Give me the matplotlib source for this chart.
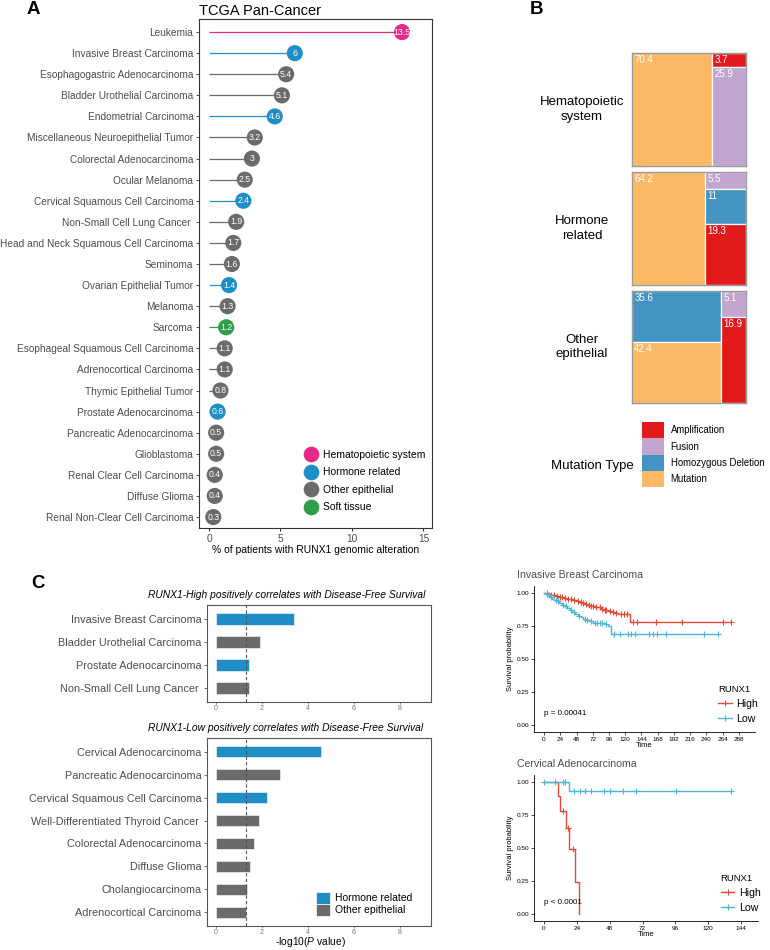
import numpy as np
import matplotlib
matplotlib.use("Agg")
import matplotlib.pyplot as plt
from matplotlib.patches import Rectangle, Patch
from matplotlib.lines import Line2D

plt.rcParams['font.family'] = ['Liberation Sans', 'DejaVu Sans']
plt.rcParams['mathtext.fontset'] = 'custom'
plt.rcParams['mathtext.rm'] = 'Liberation Sans'
plt.rcParams['mathtext.it'] = 'Liberation Sans:italic'

# ---- data ----
# panel A
cancers = ['Leukemia', 'Invasive Breast Carcinoma', 'Esophagogastric Adenocarcinoma',
           'Bladder Urothelial Carcinoma', 'Endometrial Carcinoma',
           'Miscellaneous Neuroepithelial Tumor', 'Colorectal Adenocarcinoma',
           'Ocular Melanoma', 'Cervical Squamous Cell Carcinoma',
           'Non-Small Cell Lung Cancer ', 'Head and Neck Squamous Cell Carcinoma',
           'Seminoma', 'Ovarian Epithelial Tumor', 'Melanoma', 'Sarcoma',
           'Esophageal Squamous Cell Carcinoma', 'Adrenocortical Carcinoma',
           'Thymic Epithelial Tumor', 'Prostate Adenocarcinoma',
           'Pancreatic Adenocarcinoma', 'Glioblastoma', 'Renal Clear Cell Carcinoma',
           'Diffuse Glioma', 'Renal Non-Clear Cell Carcinoma']
pct_altered = [13.5, 6, 5.4, 5.1, 4.6, 3.2, 3, 2.5, 2.4, 1.9, 1.7, 1.6, 1.4, 1.3,
               1.2, 1.1, 1.1, 0.8, 0.6, 0.5, 0.5, 0.4, 0.4, 0.3]
cancer_group = ['Hematopoietic system', 'Hormone related', 'Other epithelial',
                'Other epithelial', 'Hormone related', 'Other epithelial',
                'Other epithelial', 'Other epithelial', 'Hormone related',
                'Other epithelial', 'Other epithelial', 'Other epithelial',
                'Hormone related', 'Other epithelial', 'Soft tissue',
                'Other epithelial', 'Other epithelial', 'Other epithelial',
                'Hormone related', 'Other epithelial', 'Other epithelial',
                'Other epithelial', 'Other epithelial', 'Other epithelial']
group_names = ['Hematopoietic system', 'Hormone related', 'Other epithelial', 'Soft tissue']
group_colors = ['#E7298A', '#1F8DC6', '#6B6B6B', '#2E9E48']

# panel B (percent of altered patients by mutation type)
b_groups = ['Hematopoietic\nsystem', 'Hormone\nrelated', 'Other\nepithelial']
mut_types = ['Amplification', 'Fusion', 'Homozygous Deletion', 'Mutation']
mut_colors = ['#E31A1C', '#C2A5CF', '#4393C3', '#FDB863']
hemato_vals = {'Amplification': 3.7, 'Fusion': 25.9, 'Mutation': 70.4}
hormone_vals = {'Amplification': 19.3, 'Fusion': 5.5, 'Homozygous Deletion': 11, 'Mutation': 64.2}
other_vals = {'Amplification': 16.9, 'Fusion': 5.1, 'Homozygous Deletion': 35.6, 'Mutation': 42.4}
hemato_cols = [['Mutation'], ['Amplification', 'Fusion']]
hormone_cols = [['Mutation'], ['Fusion', 'Homozygous Deletion', 'Amplification']]
other_cols = [['Homozygous Deletion', 'Mutation'], ['Fusion', 'Amplification']]

# panel C bars
high_cancers = ['Invasive Breast Carcinoma', 'Bladder Urothelial Carcinoma',
                'Prostate Adenocarcinoma', 'Non-Small Cell Lung Cancer ']
high_logp = [3.4, 1.92, 1.42, 1.42]
high_group = ['Hormone related', 'Other epithelial', 'Hormone related', 'Other epithelial']
low_cancers = ['Cervical Adenocarcinoma', 'Pancreatic Adenocarcinoma',
               'Cervical Squamous Cell Carcinoma', 'Well-Differentiated Thyroid Cancer ',
               'Colorectal Adenocarcinoma', 'Diffuse Glioma', 'Cholangiocarcinoma',
               'Adrenocortical Carcinoma']
low_logp = [4.57, 2.8, 2.2, 1.85, 1.67, 1.48, 1.36, 1.31]
low_group = ['Hormone related', 'Other epithelial', 'Hormone related', 'Other epithelial',
             'Other epithelial', 'Other epithelial', 'Other epithelial', 'Other epithelial']

# panel C survival curves (months, survival probability)
brca_high_t = [0, 3, 6, 9, 13, 17, 21, 25, 29, 33, 38, 43, 48, 52, 56, 60, 64, 68, 75,
               80, 84, 88, 94, 100, 104, 110, 127, 276]
brca_high_s = [1.0, 0.995, 0.99, 0.985, 0.98, 0.975, 0.97, 0.965, 0.96, 0.955, 0.95,
               0.945, 0.94, 0.93, 0.925, 0.915, 0.91, 0.9, 0.895, 0.89, 0.88, 0.87,
               0.86, 0.855, 0.845, 0.84, 0.78, 0.78]
brca_high_cens = [5, 10, 15, 19, 23, 27, 31, 35, 40, 45, 50, 54, 58, 62, 66, 70, 73, 77,
                  82, 86, 90, 92, 97, 102, 107, 113, 118, 122, 132, 137, 166, 204, 264, 276]
brca_low_t = [0, 3, 6, 9, 12, 15, 18, 22, 26, 30, 34, 38, 42, 46, 50, 54, 58, 62, 66,
              72, 80, 90, 94, 99, 257]
brca_low_s = [1.0, 0.99, 0.98, 0.965, 0.955, 0.945, 0.935, 0.925, 0.91, 0.9, 0.885,
              0.87, 0.855, 0.84, 0.825, 0.815, 0.805, 0.795, 0.785, 0.775, 0.77, 0.765,
              0.745, 0.69, 0.69]
brca_low_cens = [4, 8, 11, 17, 21, 28, 33, 40, 44, 52, 60, 64, 70, 76, 78, 83, 86, 92,
                 104, 112, 124, 129, 134, 155, 161, 167, 180, 236, 257]
cesc_high_t = [0, 10.5, 12, 16, 18.3, 22.4, 25.5]
cesc_high_s = [1.0, 0.89, 0.78, 0.65, 0.49, 0.245, 0.0]
cesc_high_cens = [14, 17.6, 21]
cesc_low_t = [0, 18.3, 137]
cesc_low_s = [1.0, 0.93, 0.93]
cesc_low_cens = [0, 8, 14, 15, 15.5, 22, 26.6, 30, 34, 44, 48, 57.6, 67, 96.6, 137]

km_colors = {'High': '#E64B35', 'Low': '#4DB6D3'}

# ---- figure ----
W, H = 770, 950
fig = plt.figure(figsize=(W / 100, H / 100), dpi=100)


def ax_px(l, t, r, b):
    return fig.add_axes([l / W, 1 - b / H, (r - l) / W, (b - t) / H])


def fx(x):
    return x / W


def fy(y):
    return 1 - y / H


gray_txt = '#4D4D4D'
col_of = dict(zip(group_names, group_colors))

# ---- panel A ----
axA = ax_px(199, 19, 432, 528)
yA = np.arange(len(cancers))
cA = [col_of[g] for g in cancer_group]
axA.hlines(yA, 0, pct_altered, colors=cA, lw=0.9, zorder=1)
axA.scatter(pct_altered, yA, s=135, c=cA, zorder=2, linewidths=0)
for v, y in zip(pct_altered, yA):
    axA.text(v, y, f'{v:g}', color='white', fontsize=6.3, ha='center', va='center', zorder=3)
axA.set_yticks(yA)
axA.set_yticklabels(cancers, fontsize=7.3, color=gray_txt)
axA.set_ylim(len(cancers) - 1 + 0.52, -0.62)
axA.set_xlim(-0.7, 15.6)
axA.set_xticks([0, 5, 10, 15])
axA.tick_params(axis='x', labelsize=7.3, labelcolor=gray_txt, length=2.5, width=0.6, pad=1.5)
axA.tick_params(axis='y', length=2.5, width=0.6, pad=1.5, color='#333333')
for s in axA.spines.values():
    s.set_linewidth(0.8)
    s.set_color('#333333')
axA.set_xlabel('% of patients with RUNX1 genomic alteration', fontsize=7.5, labelpad=1)
fig.text(fx(199), fy(11), 'TCGA Pan-Cancer', fontsize=10.5, ha='left', va='center')
legA = [Line2D([], [], ls='none', marker='o', markersize=11.3, markeredgewidth=0,
               color=c, label=g) for g, c in zip(group_names, group_colors)]
axA.legend(handles=legA, loc='upper left', bbox_to_anchor=(fx(304), fy(450)),
           bbox_transform=fig.transFigure, frameon=False, fontsize=7.5,
           handlelength=1.3, handletextpad=0.5, labelspacing=0.72,
           borderpad=0, borderaxespad=0)

# ---- panel B ----
b_boxes = [(53, 166), (172, 285), (291, 403)]
b_vals = [hemato_vals, hormone_vals, other_vals]
b_cols = [hemato_cols, hormone_cols, other_cols]
mcol = dict(zip(mut_types, mut_colors))
for name, (top, bot), vals, cols in zip(b_groups, b_boxes, b_vals, b_cols):
    ax = ax_px(632, top, 746, bot)
    total = sum(vals.values())
    x0 = 0
    for col in cols:
        cw = sum(vals[k] for k in col) / total
        y0 = 0
        for k in col:
            ch = vals[k] / sum(vals[m] for m in col)
            ax.add_patch(Rectangle((x0, y0), cw, ch, facecolor=mcol[k],
                                   edgecolor='white', lw=0.9))
            ax.text(x0 + 0.02, y0 + 0.015, f'{vals[k]:g}', color='white',
                    fontsize=7, ha='left', va='top')
            y0 += ch
        x0 += cw
    ax.set_xlim(0, 1)
    ax.set_ylim(1, 0)
    ax.set_xticks([])
    ax.set_yticks([])
    for s in ax.spines.values():
        s.set_color('#9A9A9A')
        s.set_linewidth(1.0)
    fig.text(fx(582), fy((top + bot) / 2), name, fontsize=9.5, ha='center',
             va='center', linespacing=1.25)

legB = [Patch(facecolor=c, edgecolor='none', label=m) for m, c in zip(mut_types, mut_colors)]
fig.legend(handles=legB, loc='upper left', bbox_to_anchor=(fx(642), fy(422)),
           frameon=False, fontsize=6.9, handlelength=2.28, handleheight=2.25,
           handletextpad=0.7, labelspacing=0, borderpad=0, borderaxespad=0)
fig.text(fx(551), fy(466), 'Mutation Type', fontsize=9.5, ha='left', va='center')

# ---- panel C bars ----
def bar_panel(ax, names, vals, groups, title, title_y):
    y = np.arange(len(names))
    ax.barh(y, vals, height=0.5, color=[col_of[g] for g in groups],
            edgecolor='white', lw=0.4)
    ax.axvline(1.3, color='#555555', lw=0.8, ls=(0, (3, 2)))
    ax.set_yticks(y)
    ax.set_yticklabels(names, fontsize=7.8, color=gray_txt)
    ax.set_ylim(len(names) - 1 + 0.6, -0.6)
    ax.set_xlim(-0.39, 9.35)
    ax.set_xticks([0, 2, 4, 6, 8])
    ax.tick_params(axis='x', labelsize=5.0, labelcolor='#777777', length=1.5, width=0.5,
                   pad=1, color='#555555')
    ax.tick_params(axis='y', length=2.5, width=0.6, pad=1.5, color='#555555')
    for s in ax.spines.values():
        s.set_linewidth(0.8)
        s.set_color('#555555')
    fig.text(fx(148), fy(title_y), title, fontsize=7.4, style='italic',
             ha='left', va='center')


axC1 = ax_px(207, 605, 431, 702)
bar_panel(axC1, high_cancers, high_logp, high_group,
          'RUNX1-High positively correlates with Disease-Free Survival', 595)
axC2 = ax_px(207, 738, 426 + 5, 926)
bar_panel(axC2, low_cancers, low_logp, low_group,
          'RUNX1-Low positively correlates with Disease-Free Survival', 728)
fig.text(fx(310), fy(949), r'-log10($\it{P}$ value)', fontsize=7.4, ha='center',
         va='bottom')
legC = [Patch(facecolor=col_of[g], edgecolor='white', lw=0.5, label=g)
        for g in ['Hormone related', 'Other epithelial']]
axC2.legend(handles=legC, loc='upper left', bbox_to_anchor=(fx(316), fy(892)),
            bbox_transform=fig.transFigure, frameon=False, fontsize=7.5,
            handlelength=1.35, handleheight=1.38, handletextpad=0.45,
            labelspacing=0, borderpad=0, borderaxespad=0)


# ---- panel C survival ----
def km_panel(ax, title, curves, xlim, xticks, ptext):
    for lab, t, s, cens in curves:
        ax.step(t, s, where='post', color=km_colors[lab], lw=1.0)
        idx = np.searchsorted(t, cens, side='right') - 1
        ax.plot(cens, np.array(s)[idx], ls='none', marker='+', ms=4.5, mew=0.8,
                color=km_colors[lab])
    ax.set_xlim(*xlim)
    ax.set_ylim(-0.05, 1.05)
    ax.set_xticks(xticks)
    ax.set_yticks([0, 0.25, 0.5, 0.75, 1.0])
    ax.set_yticklabels(['0.00', '0.25', '0.50', '0.75', '1.00'])
    ax.tick_params(labelsize=4.6, length=2, width=0.5, pad=1.5)
    for k in ['top', 'right']:
        ax.spines[k].set_visible(False)
    for k in ['left', 'bottom']:
        ax.spines[k].set_linewidth(0.6)
    ax.set_xlabel('Time', fontsize=5.5, labelpad=0)
    ax.set_ylabel('Survival probability', fontsize=5.5, labelpad=2)
    ax.text(0, 0.09, ptext, fontsize=5.8, ha='left', va='center')
    ax.set_title(title, fontsize=7.6, color=gray_txt, loc='left', x=-0.077, pad=6)
    hd = [Line2D([], [], color=km_colors[k], lw=1.0, marker='+', ms=5, mew=0.8, label=k)
          for k in ['High', 'Low']]
    lg = ax.legend(handles=hd, title='RUNX1', loc='lower left',
                   bbox_to_anchor=(0.81, 0.02), frameon=False, fontsize=7.6,
                   title_fontsize=6.8, handlelength=1.3, handletextpad=0.4,
                   labelspacing=0.45, borderpad=0)
    lg._legend_box.align = 'left'


axK1 = ax_px(534, 586, 755, 732)
km_panel(axK1, 'Invasive Breast Carcinoma',
         [('High', brca_high_t, brca_high_s, brca_high_cens),
          ('Low', brca_low_t, brca_low_s, brca_low_cens)],
         (-14.8, 311.7), np.arange(0, 289, 24), 'p = 0.00041')
axK2 = ax_px(534, 775, 758, 921)
km_panel(axK2, 'Cervical Adenocarcinoma',
         [('High', cesc_high_t, cesc_high_s, cesc_high_cens),
          ('Low', cesc_low_t, cesc_low_s, cesc_low_cens)],
         (-7.3, 156.4), np.arange(0, 145, 24), 'p < 0.0001')

# panel letters
fig.text(fx(27), fy(9), 'A', fontsize=13.5, fontweight='bold', ha='left', va='center')
fig.text(fx(530), fy(9), 'B', fontsize=13.5, fontweight='bold', ha='left', va='center')
fig.text(fx(31), fy(583), 'C', fontsize=13.5, fontweight='bold', ha='left', va='center')

fig.savefig('out.png', dpi=100)
